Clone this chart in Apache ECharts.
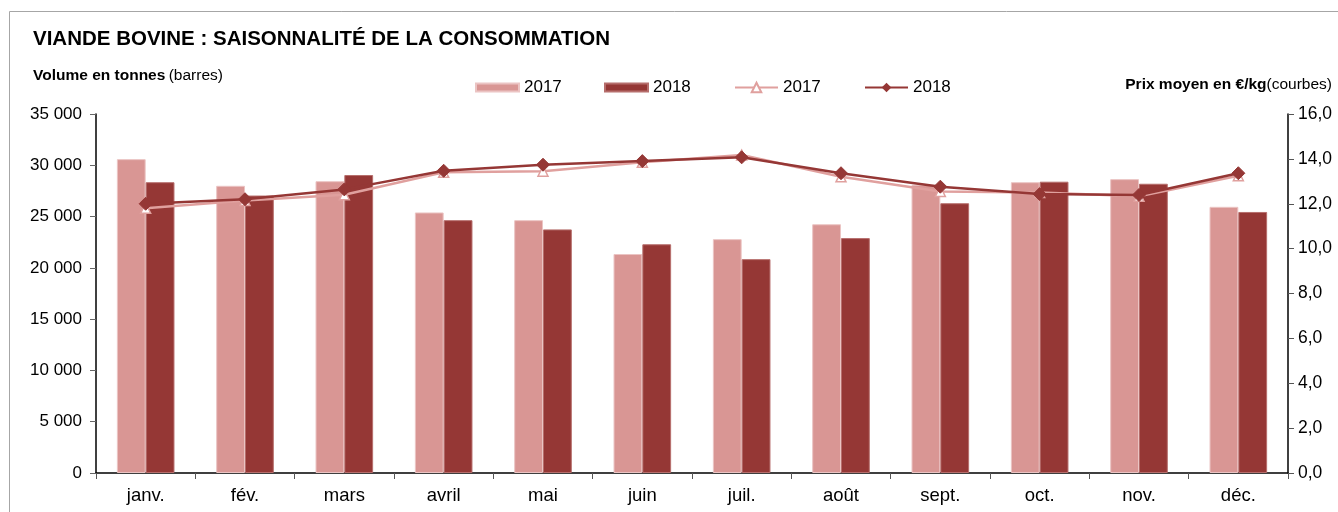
<!DOCTYPE html>
<html>
<head>
<meta charset="utf-8">
<script src="https://cdn.jsdelivr.net/npm/echarts@6/dist/echarts.min.js"></script>
<style>
html,body{margin:0;padding:0;background:#fff;}
#c{width:1338px;height:512px;}
</style>
</head>
<body>
<div id="c"></div>
<script>
var categories = ['janv.', 'fév.', 'mars', 'avril', 'mai', 'juin', 'juil.', 'août', 'sept.', 'oct.', 'nov.', 'déc.'];
var volume2017 = [30600, 28000, 28450, 25400, 24650, 21350, 22800, 24250, 28100, 28350, 28650, 25950];
var volume2018 = [28350, 27050, 29050, 24650, 23750, 22300, 20850, 22900, 26300, 28400, 28200, 25450];
var prix2017 = [11.8, 12.15, 12.4, 13.4, 13.45, 13.85, 14.17, 13.2, 12.55, 12.5, 12.33, 13.25];
var prix2018 = [12.0, 12.2, 12.64, 13.47, 13.74, 13.9, 14.07, 13.36, 12.76, 12.43, 12.39, 13.36];
var leftTicks = {min: 0, max: 35000, interval: 5000};
var rightTicks = {min: 0, max: 16, interval: 2};

var FONT = 'Liberation Sans, Arial, sans-serif';
var chart = echarts.init(document.getElementById('c'), null, {renderer: 'canvas'});

function thousands(v) {
  return String(v).replace(/\B(?=(\d{3})+(?!\d))/g, ' ');
}

function legendAt(name, left, icon, h, top) {
  var item = {name: name};
  if (icon) item.icon = icon;
  return {
    left: left, top: top, padding: 0,
    itemWidth: 43, itemHeight: h, itemGap: 0,
    textStyle: {fontSize: 17, fontFamily: FONT, color: '#000', padding: [0, 0, 0, 0]},
    data: [item],
    formatter: function (n) { return n.slice(1); }
  };
}

var option = {
  backgroundColor: '#fff',
  animation: false,
  textStyle: {fontFamily: FONT, color: '#000'},
  graphic: [
    {type: 'rect', shape: {x: 9.5, y: 11.5, width: 1400, height: 600}, style: {fill: 'none', stroke: '#A6A6A6', lineWidth: 1}, silent: true, z: -1},
    {type: 'text', left: 33, top: 29, style: {text: 'VIANDE BOVINE : SAISONNALITÉ DE LA CONSOMMATION', font: 'bold 20.5px ' + FONT, fill: '#000'}},
    {type: 'text', left: 33, top: 68, style: {
      text: '{b|Volume en tonnes} {n|(barres)}',
      rich: {b: {font: 'bold 15.5px ' + FONT, fill: '#000'}, n: {font: '15.5px ' + FONT, fill: '#000'}}
    }},
    {type: 'text', right: 6, top: 77, style: {
      text: '{b|Prix moyen en €/kg}{n|(courbes)}',
      rich: {b: {font: 'bold 15.5px ' + FONT, fill: '#000'}, n: {font: '15.5px ' + FONT, fill: '#000'}}
    }}
  ],
  legend: [
    legendAt('V2017', 475, 'rect', 8, 79),
    legendAt('V2018', 604, 'rect', 8, 79),
    legendAt('P2017', 734, null, 12, 79),
    legendAt('P2018', 864, null, 12, 79)
  ],
  grid: {left: 96, right: 50, top: 114, bottom: 39, containLabel: false},
  xAxis: {
    type: 'category',
    data: categories,
    boundaryGap: true,
    axisLine: {lineStyle: {color: '#000', width: 1.5}},
    axisTick: {show: true, length: 6, lineStyle: {color: '#555'}},
    axisLabel: {fontSize: 18.5, color: '#000', margin: 13, fontFamily: FONT},
    splitLine: {show: false}
  },
  yAxis: [
    {
      type: 'value',
      min: leftTicks.min, max: leftTicks.max, interval: leftTicks.interval,
      axisLine: {show: true, lineStyle: {color: '#000', width: 1.5}},
      axisTick: {show: true, length: 6, lineStyle: {color: '#666'}},
      axisLabel: {fontSize: 17, color: '#000', margin: 14, fontFamily: FONT, formatter: thousands},
      splitLine: {show: false}
    },
    {
      type: 'value',
      position: 'right',
      min: rightTicks.min, max: rightTicks.max, interval: rightTicks.interval,
      axisLine: {show: true, lineStyle: {color: '#000', width: 1.5}},
      axisTick: {show: true, length: 6, lineStyle: {color: '#555'}},
      axisLabel: {fontSize: 17.5, color: '#000', margin: 10, fontFamily: FONT,
        formatter: function (v) { return v.toFixed(1).replace('.', ','); }},
      splitLine: {show: false}
    }
  ],
  series: [
    {
      name: 'V2017', type: 'bar', yAxisIndex: 0, data: volume2017,
      barGap: '0%', barCategoryGap: '42%',
      itemStyle: {color: '#D99694', borderColor: '#EBC4C3', borderWidth: 1}
    },
    {
      name: 'V2018', type: 'bar', yAxisIndex: 0, data: volume2018,
      barGap: '0%', barCategoryGap: '42%',
      itemStyle: {color: '#953735', borderColor: '#B66E6C', borderWidth: 1}
    },
    {
      name: 'P2017', type: 'line', yAxisIndex: 1, data: prix2017,
      symbol: 'triangle', symbolSize: 10,
      lineStyle: {color: '#E0A09E', width: 2.5},
      itemStyle: {color: '#fff', borderColor: '#E0A09E', borderWidth: 1.5},
      z: 3
    },
    {
      name: 'P2018', type: 'line', yAxisIndex: 1, data: prix2018,
      symbol: 'diamond', symbolSize: 13,
      lineStyle: {color: '#953735', width: 2.5},
      itemStyle: {color: '#953735', borderColor: '#953735'},
      z: 4
    }
  ]
};
chart.setOption(option);
</script>
</body>
</html>
